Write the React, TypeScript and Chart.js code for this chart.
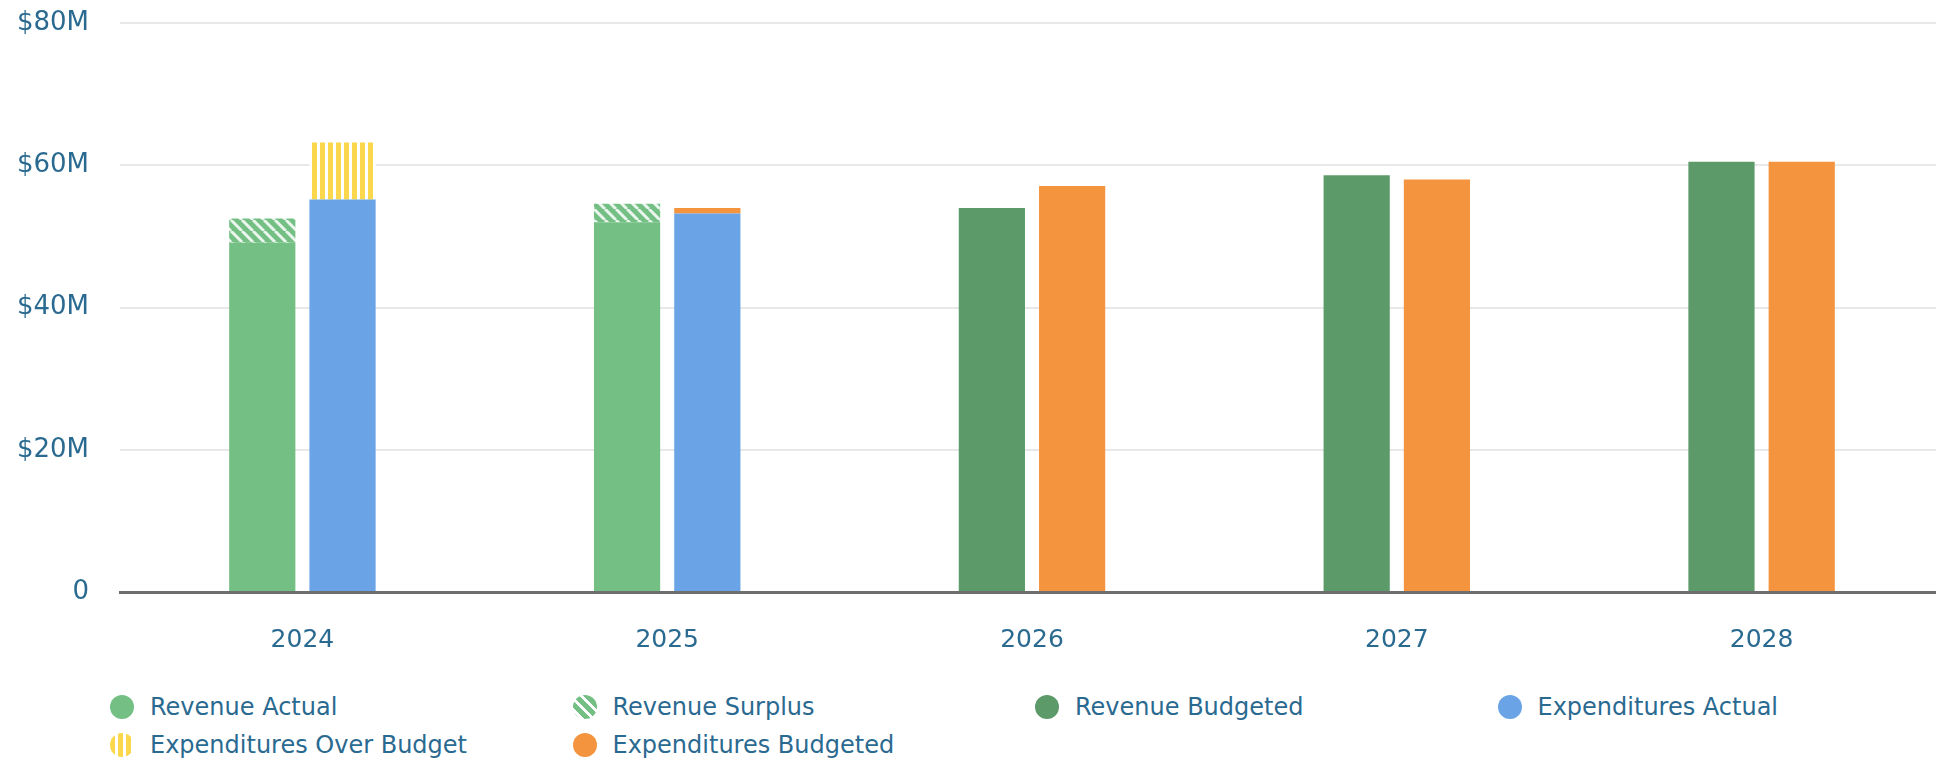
import React, { useEffect, useRef } from 'react';
import { Chart, registerables } from 'chart.js';

Chart.register(...registerables);

// ---- data (values in $M) ----
const categories = ['2024', '2025', '2026', '2027', '2028'];
const revenueActual = [49.1, 52.0, null, null, null];
const revenueSurplus = [3.4, 2.6, null, null, null];
const revenueBudgeted = [null, null, 54.0, 58.6, 60.5];
const expendituresActual = [55.2, 53.2, null, null, null];
const expendituresOverBudget = [8.0, null, null, null, null];
const expendituresBudgeted = [null, 0.8, 57.1, 58.0, 60.5];
const yTickValues = [0, 20, 40, 60, 80];
const seriesLabels = [
  'Revenue Actual',
  'Revenue Surplus',
  'Revenue Budgeted',
  'Expenditures Actual',
  'Expenditures Over Budget',
  'Expenditures Budgeted',
];

const C_REV_ACT = '#74c084';
const C_REV_BUD = '#5c9a69';
const C_EXP_ACT = '#6ba4e6';
const C_EXP_BUD = '#f4943f';
const C_OVER = '#fbd84b';
const TEXT = '#2a6a90';
const FONT = '"DejaVu Sans", sans-serif';

function verticalPattern(bg: string, fg: string) {
  const c = document.createElement('canvas');
  c.width = 8;
  c.height = 8;
  const x = c.getContext('2d')!;
  x.fillStyle = bg;
  x.fillRect(0, 0, 8, 8);
  x.fillStyle = fg;
  x.fillRect(5, 0, 3, 8);
  return x.createPattern(c, 'repeat')!;
}

function diagonalPattern(bg: string, fg: string) {
  const s = 11;
  const c = document.createElement('canvas');
  c.width = s;
  c.height = s;
  const x = c.getContext('2d')!;
  x.fillStyle = bg;
  x.fillRect(0, 0, s, s);
  x.strokeStyle = fg;
  x.lineWidth = 3;
  x.beginPath();
  for (const o of [-s, 0, s]) {
    x.moveTo(o, 0);
    x.lineTo(o + s, s);
  }
  x.stroke();
  return x.createPattern(c, 'repeat')!;
}

const legendSwatches: Record<string, string> = {
  'Revenue Actual': C_REV_ACT,
  'Revenue Surplus': `repeating-linear-gradient(45deg, ${C_REV_ACT} 0px, ${C_REV_ACT} 5px, rgba(255,255,255,0.9) 5px, rgba(255,255,255,0.9) 8px)`,
  'Revenue Budgeted': C_REV_BUD,
  'Expenditures Actual': C_EXP_ACT,
  'Expenditures Over Budget': `repeating-linear-gradient(90deg, ${C_OVER} 0px, ${C_OVER} 5px, #ffffff 5px, #ffffff 8px)`,
  'Expenditures Budgeted': C_EXP_BUD,
};

const CANVAS_W = 1944;
const CANVAS_H = 670;

export default function App() {
  const ref = useRef<HTMLCanvasElement | null>(null);

  useEffect(() => {
    document.body.style.margin = '0';
    const canvas = ref.current!;
    const surplus = diagonalPattern(C_REV_ACT, 'rgba(255,255,255,0.85)');
    const over = verticalPattern(C_OVER, '#ffffff');
    const common = { categoryPercentage: 0.44, barPercentage: 0.825, borderWidth: 0 };
    const chart = new Chart(canvas, {
      type: 'bar',
      data: {
        labels: categories,
        datasets: [
          { label: seriesLabels[0], data: revenueActual, backgroundColor: C_REV_ACT, stack: 'rev', ...common },
          { label: seriesLabels[1], data: revenueSurplus, backgroundColor: surplus, stack: 'rev', ...common },
          { label: seriesLabels[2], data: revenueBudgeted, backgroundColor: C_REV_BUD, stack: 'rev', ...common },
          { label: seriesLabels[3], data: expendituresActual, backgroundColor: C_EXP_ACT, stack: 'exp', ...common },
          { label: seriesLabels[4], data: expendituresOverBudget, backgroundColor: over, stack: 'exp', ...common },
          { label: seriesLabels[5], data: expendituresBudgeted, backgroundColor: C_EXP_BUD, stack: 'exp', ...common },
        ] as any,
      },
      options: {
        responsive: false,
        animation: false,
        devicePixelRatio: 1,
        layout: { padding: { top: 23, right: 0, bottom: 0, left: 0 } },
        plugins: { legend: { display: false }, tooltip: { enabled: false } },
        scales: {
          x: {
            stacked: true,
            grid: { display: false, drawTicks: false },
            border: { display: true, color: '#6e6e6e', width: 3 },
            ticks: { color: TEXT, font: { family: FONT, size: 25 }, padding: 33 },
            afterFit: (s: any) => {
              s.height = 78;
              s.paddingLeft = 0;
              s.paddingRight = 0;
            },
          },
          y: {
            stacked: true,
            min: 0,
            max: 80,
            afterBuildTicks: (s: any) => {
              s.ticks = yTickValues.map((v) => ({ value: v }));
            },
            grid: {
              drawTicks: false,
              color: (c: any) => (c.tick && c.tick.value === 0 ? 'rgba(0,0,0,0)' : '#e8e8e8'),
              lineWidth: 2,
            },
            border: { display: false },
            ticks: {
              color: TEXT,
              font: { family: FONT, size: 26 },
              padding: 31,
              callback: (v: any) => (Number(v) === 0 ? '0' : `$${v}M`),
            },
            afterFit: (s: any) => {
              s.width = 120;
              s.paddingTop = 0;
              s.paddingBottom = 0;
            },
          },
        },
      },
    });
    return () => chart.destroy();
  }, []);

  return (
    <div style={{ position: 'relative', width: 1936, height: 759, background: '#fff', overflow: 'hidden' }}>
      <canvas
        ref={ref}
        width={CANVAS_W}
        height={CANVAS_H}
        style={{ display: 'block', width: CANVAS_W, height: CANVAS_H }}
      />
      <div
        style={{
          position: 'absolute',
          left: 110,
          top: 688,
          display: 'grid',
          gridTemplateColumns: 'repeat(4, 462.5px)',
        }}
      >
        {seriesLabels.map((l) => (
          <div key={l} style={{ display: 'flex', alignItems: 'center', height: 38 }}>
            <span
              style={{
                display: 'inline-block',
                width: 24,
                height: 24,
                borderRadius: '50%',
                background: legendSwatches[l],
                marginRight: 16,
                flex: 'none',
              }}
            />
            <span style={{ fontFamily: FONT, fontSize: 24, color: TEXT, whiteSpace: 'nowrap' }}>{l}</span>
          </div>
        ))}
      </div>
    </div>
  );
}
